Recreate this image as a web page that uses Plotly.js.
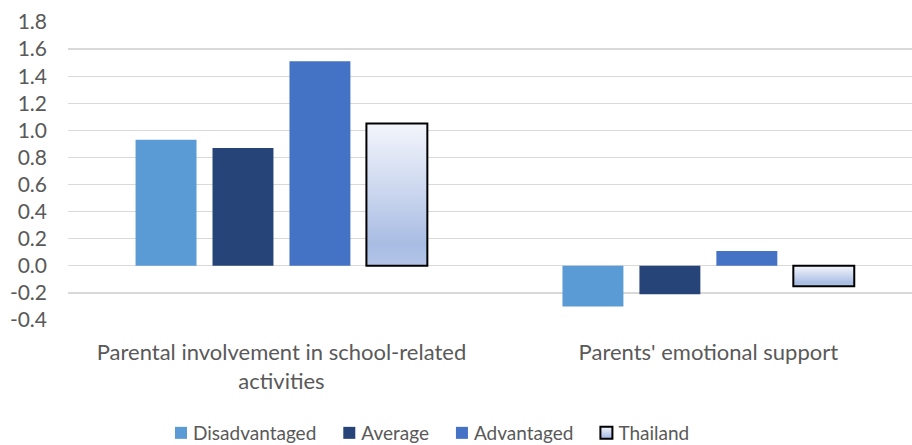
<!DOCTYPE html>
<html>
<head>
<meta charset="utf-8">
<script src="https://cdn.plot.ly/plotly-3.0.1.min.js"></script>
<style>
html,body{margin:0;padding:0;background:#fff;}
#chart{width:912px;height:445px;}
</style>
</head>
<body>
<div id="chart"></div>
<script>
const categories = ["Parental involvement in school-related<br>activities", "Parents' emotional support"];
const seriesNames = ["Disadvantaged", "Average", "Advantaged", "Thailand"];
const disadvantaged = [0.93, -0.30];
const average = [0.87, -0.21];
const advantaged = [1.51, 0.11];
const thailand = [1.05, -0.15];
const yTicks = [-0.4, -0.2, 0.0, 0.2, 0.4, 0.6, 0.8, 1.0, 1.2, 1.4, 1.6, 1.8];

const colors = ["#5B9BD5", "#264478", "#4472C4", "#C9D5EE"];
const seriesValues = [disadvantaged, average, advantaged, thailand];

const FONT = "Lato, 'Open Sans', sans-serif";
const GRAY = "#595959";

const traces = seriesValues.map((vals, i) => ({
  type: "bar",
  name: seriesNames[i],
  x: categories,
  y: vals,
  marker: {
    color: colors[i],
    line: i === 3 ? {color: "#000000", width: 2} : {width: 0}
  },
  hoverinfo: "skip"
}));

const layout = {
  width: 912,
  height: 445,
  margin: {l: 68, r: 0, t: 22, b: 125},
  paper_bgcolor: "#ffffff",
  plot_bgcolor: "#ffffff",
  barmode: "group",
  bargap: 0.279,
  bargroupgap: 0.208,
  font: {family: FONT, color: GRAY, size: 22},
  showlegend: true,
  legend: {
    orientation: "h",
    xref: "container", yref: "container",
    x: 424 / 912, xanchor: "center",
    y: 1 - 433 / 445, yanchor: "middle",
    font: {family: FONT, color: GRAY, size: 19},
    traceorder: "normal",
    itemwidth: 30
  },
  xaxis: {
    type: "category",
    range: [-0.5, 1.477],
    showgrid: false,
    showline: false,
    zeroline: false,
    ticks: "",
    tickfont: {family: FONT, color: GRAY, size: 22},
    ticklabelstandoff: 17
  },
  yaxis: {
    range: [-0.4, 1.8],
    tickvals: yTicks,
    ticktext: yTicks.map(v => v.toFixed(1)),
    showgrid: true,
    gridcolor: "#D9D9D9",
    gridwidth: 1.3,
    zeroline: false,
    showline: false,
    ticks: "",
    tickfont: {family: FONT, color: GRAY, size: 21},
    ticklabelstandoff: 20
  }
};

function applyStyling(gd) {
  const svg = gd.querySelector("svg.main-svg");
  if (!svg) return;
  const ns = "http://www.w3.org/2000/svg";
  let defs = svg.querySelector("defs");
  if (!defs) { defs = document.createElementNS(ns, "defs"); svg.insertBefore(defs, svg.firstChild); }
  if (!svg.querySelector("#thaiGrad")) {
    const g = document.createElementNS(ns, "linearGradient");
    g.setAttribute("id", "thaiGrad");
    g.setAttribute("x1", "0"); g.setAttribute("y1", "0");
    g.setAttribute("x2", "0"); g.setAttribute("y2", "1");
    [["0", "#F3F5FB"], ["0.5", "#C9D5EE"], ["0.85", "#A8BCE3"], ["1", "#B4C5E7"]].forEach(([o, c]) => {
      const s = document.createElementNS(ns, "stop");
      s.setAttribute("offset", o); s.setAttribute("stop-color", c);
      g.appendChild(s);
    });
    defs.appendChild(g);
  }
  const barTraces = gd.querySelectorAll(".barlayer .trace.bars");
  if (barTraces[3]) {
    barTraces[3].querySelectorAll("path").forEach(p => { p.style.fill = "url(#thaiGrad)"; });
  }
  const legendTraces = gd.querySelectorAll(".legend .traces");
  legendTraces.forEach((t, i) => {
    const pts = t.querySelector(".legendpoints");
    if (pts && !pts.dataset.shifted) {
      const tr = pts.getAttribute("transform") || "";
      pts.setAttribute("transform", tr + " translate(8,0)");
      pts.dataset.shifted = "1";
    }
    if (i === 3) {
      t.querySelectorAll(".legendpoints path").forEach(p => { p.style.fill = "url(#thaiGrad)"; });
    }
  });
}

const gd = document.getElementById("chart");
Plotly.newPlot(gd, traces, layout, {displayModeBar: false, staticPlot: true}).then(() => {
  applyStyling(gd);
  gd.on("plotly_afterplot", () => applyStyling(gd));
});
</script>
</body>
</html>
